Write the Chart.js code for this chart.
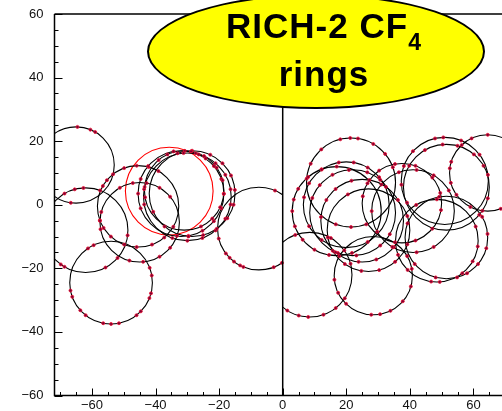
<!DOCTYPE html>
<html>
<head>
<meta charset="utf-8">
<script src="https://cdn.jsdelivr.net/npm/chart.js@4"></script>
<style>
  html, body { margin: 0; padding: 0; background: #fff; overflow: hidden; }
  #wrap { position: relative; width: 502px; height: 411px; }
  #badge {
    position: absolute; left: 147px; top: -6px; width: 334px; height: 111px;
    background: #ffff00; border: 2px solid #000; border-radius: 50%;
    box-sizing: content-box;
  }
  #badgeText {
    position: absolute; left: 0; top: 0; width: 100%;
    padding-top: 8px; padding-left: 16px; box-sizing: border-box;
    text-align: center; font: bold 35px "Liberation Sans", Arial, sans-serif;
    letter-spacing: 1px; line-height: 43px; color: #000;
  }
  #badgeText .sub { font-size: 23px; position: relative; top: 12px; }
</style>
</head>
<body>
<div id="wrap">
  <canvas id="rings" width="502" height="411"></canvas>
  <div id="badge"><div id="badgeText">RICH-2 CF<span class="sub">4</span><br>rings</div></div>
</div>
<script>
// ------------------------------------------------------------
// DATOS: anillos (centro x, centro y, radio) y ángulos de los hits
// ------------------------------------------------------------
const xTicks = [-60, -40, -20, 0, 20, 40, 60];
const yTicks = [-60, -40, -20, 0, 20, 40, 60];

// mitad izquierda (x < 0)
const leftRingX = [-65, -62, -54, -45.5, -45, -32, -30, -28.5, -31, -7.5];
const leftRingY = [12.5, -8, -24.5, -0.5, -5.5, 3.5, 2.5, 3.5, 4.5, -7.5];
const leftRingR = [12, 13.3, 13, 12.8, 12.5, 13.5, 13.8, 13.5, 12.5, 13];
const leftHitAngles = [
  [88, 68, 60, 262],
  [120, 105, 93, 70, 353, 319, 298, 240, 234],
  [124, 115, 191, 200, 222, 232, 259, 270, 281, 308, 316, 338, 345, 10, 21],
  [150, 140, 128, 110, 92, 75, 60, 200, 212, 228, 250, 268, 290, 310, 330],
  [165, 178, 190, 120, 100, 80, 60, 40, 255, 275, 300, 320, 340],
  [100, 85, 70, 55, 40, 20, 0, 340, 320, 300, 280, 200, 180, 160, 140],
  [95, 75, 50, 30, 10, 350, 330, 310, 290, 270, 250, 190, 170],
  [110, 90, 65, 45, 25, 5, 345, 325, 305, 285, 265, 230, 205],
  [130, 115, 80, 60, 35, 15, 355, 335, 315, 295, 190, 175],
  [194, 217, 225, 233, 243, 248, 291, 304, 67]
];

// mitad derecha (x > 0)
const rightRingX = [21.5, 64.5, 51, 51.5, 8.5, 28.5, 48.5, 51.5, 17, 20, 22, 25, 27, 37.5, 41];
const rightRingY = [7, 10, 7.5, 5.5, -22, -22.3, -11.3, -10.3, -2, 0, -2.5, -5, -8, 0.5, -2];
const rightRingR = [14, 12, 13.7, 13.5, 13.3, 12.3, 13, 13, 14, 13.5, 13.5, 13, 13, 12.5, 13];
const rightHitAngles = [
  [175, 155, 132, 104, 91, 81, 60, 40, 20, 250, 270, 290],
  [115, 133, 163, 173, 195, 215, 243, 262, 290, 90],
  [137, 103, 92, 68, 37, 8, 160, 185, 210],
  [150, 120, 95, 75, 50, 30, 345, 320],
  [238, 255, 268, 289, 308, 326, 15, 35, 60, 110],
  [186, 206, 226, 267, 280, 296, 319, 344, 10, 30, 150],
  [262, 274, 308, 330, 352, 20, 200, 225, 120, 90],
  [255, 285, 300, 320, 345, 5, 30, 220, 160, 100],
  [180, 165, 150, 130, 110, 90, 200, 220, 240, 260, 290],
  [170, 150, 125, 100, 80, 60, 40, 210, 235, 300],
  [160, 140, 118, 95, 70, 50, 250, 275, 310, 330],
  [175, 150, 130, 105, 80, 55, 30, 230, 265, 290, 320],
  [190, 210, 235, 260, 285, 310, 340, 20, 120],
  [170, 150, 125, 100, 70, 40, 15, 350, 320, 290, 260],
  [180, 140, 110, 85, 60, 30, 210, 240, 275, 300]
];

// anillo rojo (ajuste destacado)
const redRingX = [-35.7];
const redRingY = [4.3];
const redRingR = [13.8];

// ------------------------------------------------------------
// ARMADO DE DATASETS
// ------------------------------------------------------------
function hitPoints(xs, ys, rs, angles) {
  const pts = [];
  angles.forEach((list, i) => {
    for (const a of list) {
      const t = a * Math.PI / 180;
      pts.push({ x: xs[i] + rs[i] * Math.cos(t), y: ys[i] + rs[i] * Math.sin(t) });
    }
  });
  return pts;
}

// radio en píxeles a partir del radio en unidades de datos
function pxRadius(chart, r) {
  const sx = chart.scales.x;
  return Math.abs(sx.getPixelForValue(r) - sx.getPixelForValue(0));
}

function ringDataset(xs, ys, rs, color, side) {
  return {
    type: "bubble",
    side,
    radii: rs,
    data: xs.map((x, i) => ({ x, y: ys[i], r: 0 })),
    backgroundColor: "rgba(0,0,0,0)",
    borderColor: color,
    borderWidth: 1.1,
    order: 2,
  };
}

const hits = hitPoints(leftRingX, leftRingY, leftRingR, leftHitAngles)
  .concat(hitPoints(rightRingX, rightRingY, rightRingR, rightHitAngles));

const fmt = (v) => (v < 0 ? "\u2212" + Math.abs(v) : String(v));

// ------------------------------------------------------------
// MARCO, LÍNEA x=0, TICKS HACIA ADENTRO Y RECORTE POR MITAD
// ------------------------------------------------------------
const framePlugin = {
  id: "frame",
  beforeDatasetDraw(chart, args) {
    const side = chart.data.datasets[args.index].side;
    if (!side) return;
    const { ctx, chartArea: a } = chart;
    const x0 = chart.scales.x.getPixelForValue(0);
    ctx.save();
    ctx.beginPath();
    if (side === "left") ctx.rect(a.left, a.top, x0 - a.left, a.bottom - a.top);
    else ctx.rect(x0, a.top, a.right - x0, a.bottom - a.top);
    ctx.clip();
  },
  afterDatasetDraw(chart, args) {
    if (chart.data.datasets[args.index].side) chart.ctx.restore();
  },
  afterDraw(chart) {
    const { ctx, chartArea: a, scales: { x, y } } = chart;
    ctx.save();
    ctx.strokeStyle = "#000";
    ctx.lineWidth = 1.5;
    ctx.beginPath();
    ctx.moveTo(a.left, a.top);
    ctx.lineTo(a.left, a.bottom);
    ctx.lineTo(a.right, a.bottom);
    ctx.moveTo(a.left, a.top);
    ctx.lineTo(a.right, a.top);
    const x0 = x.getPixelForValue(0);
    ctx.moveTo(x0, a.top);
    ctx.lineTo(x0, a.bottom);
    ctx.stroke();

    ctx.lineWidth = 1;
    ctx.beginPath();
    for (let v = Math.ceil(x.min / 5) * 5; v <= x.max; v += 5) {
      const px = Math.round(x.getPixelForValue(v)) + 0.5;
      const len = v % 20 === 0 ? 7 : 3.5;
      ctx.moveTo(px, a.bottom);
      ctx.lineTo(px, a.bottom - len);
    }
    for (let v = Math.ceil(y.min / 5) * 5; v <= y.max; v += 5) {
      const py = Math.round(y.getPixelForValue(v)) + 0.5;
      const len = v % 20 === 0 ? 8 : 4;
      ctx.moveTo(a.left, py);
      ctx.lineTo(a.left + len, py);
    }
    ctx.stroke();
    ctx.restore();
  },
};

// ------------------------------------------------------------
// GRÁFICO
// ------------------------------------------------------------
const tickFont = { family: "'Liberation Sans', Arial, sans-serif", size: 13 };

const ringChart = new Chart(document.getElementById("rings"), {
  type: "bubble",
  data: {
    datasets: [
      {
        type: "scatter",
        data: hits,
        pointRadius: 1.5,
        pointBackgroundColor: "#7a0035",
        pointBorderColor: "#f01030",
        pointBorderWidth: 0.8,
        order: 0,
      },
      ringDataset(leftRingX, leftRingY, leftRingR, "#000", "left"),
      ringDataset(redRingX, redRingY, redRingR, "#ff0000", "left"),
      ringDataset(rightRingX, rightRingY, rightRingR, "#000", "right"),
    ],
  },
  options: {
    responsive: false,
    animation: false,
    events: [],
    layout: { autoPadding: false, padding: { top: 14, left: 0, right: 0, bottom: 0 } },
    plugins: { legend: { display: false }, tooltip: { enabled: false } },
    scales: {
      x: {
        type: "linear",
        min: -71.8,
        max: 69,
        afterFit: (s) => { s.height = 15.5; },
        afterBuildTicks: (s) => { s.ticks = xTicks.map((v) => ({ value: v })); },
        grid: { display: false },
        border: { display: false },
        ticks: { callback: fmt, font: tickFont, color: "#111", padding: -6, maxRotation: 0, autoSkip: false },
      },
      y: {
        type: "linear",
        min: -60,
        max: 60,
        afterFit: (s) => { s.width = 54.5; },
        afterBuildTicks: (s) => { s.ticks = yTicks.map((v) => ({ value: v })); },
        grid: { display: false },
        border: { display: false },
        ticks: { callback: fmt, font: tickFont, color: "#111", padding: 3, autoSkip: false },
      },
    },
  },
  plugins: [framePlugin],
});

// radios de los anillos: de unidades de datos a píxeles con la escala x
ringChart.data.datasets.forEach((ds) => {
  if (!ds.radii) return;
  ds.data.forEach((p, i) => { p.r = pxRadius(ringChart, ds.radii[i]); });
});
ringChart.update();
</script>
</body>
</html>
